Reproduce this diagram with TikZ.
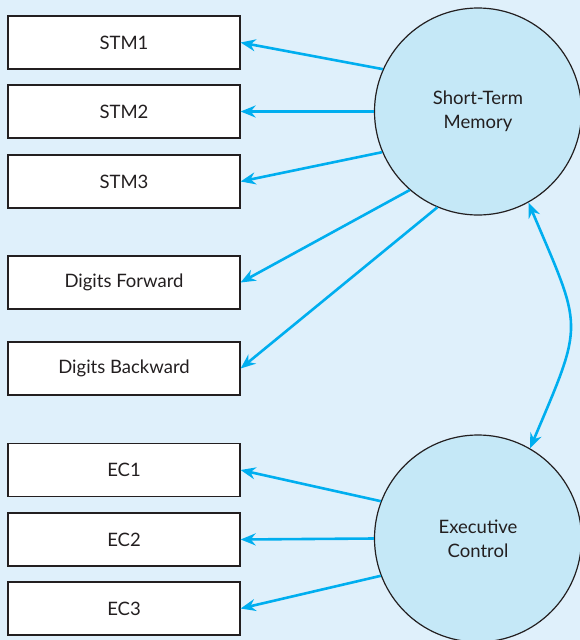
\documentclass[tikz,border=0pt]{standalone}
\usepackage{fontspec}
\setmainfont{Lato}
\usetikzlibrary{arrows.meta}
\definecolor{bgblue}{RGB}{223,240,251}
\definecolor{latent}{RGB}{197,232,247}
\definecolor{pathblue}{RGB}{0,174,239}
\definecolor{ink}{RGB}{35,31,32}
\begin{document}
\begin{tikzpicture}[x=1pt,y=-1pt,>={Stealth[length=15pt,width=12pt]},
  indicator/.style={draw=ink,line width=1.2pt,fill=white,minimum width=232pt,minimum height=53pt,inner sep=0pt,text=ink,font=\fontsize{18.5}{22}\selectfont},
  factor/.style={circle,draw=ink,line width=1.2pt,fill=latent,minimum size=207pt,inner sep=0pt,align=center,text=ink,font=\fontsize{18.5}{24}\selectfont},
  path/.style={->,draw=pathblue,line width=2.6pt}]
\fill[bgblue] (0,0) rectangle (580,640);
\clip (0,0) rectangle (580,640);
\node[indicator] (stm1) at (124,42.5) {STM1};
\node[indicator] (stm2) at (124,111.5) {STM2};
\node[indicator] (stm3) at (124,181.5) {STM3};
\node[indicator] (dfwd) at (124,282.5) {Digits Forward};
\node[indicator] (dbwd) at (124,368.5) {Digits Backward};
\node[indicator] (ec1) at (124,470) {EC1};
\node[indicator] (ec2) at (124,539.5) {EC2};
\node[indicator] (ec3) at (124,608.5) {EC3};
\node[factor] (stm) at (478,111.5) {Short-Term\\Memory};
\node[factor] (ec) at (478,538.5) {Executive\\Control};
\draw[path] (stm.156) -- (stm1.east);
\draw[path] (stm.180) -- (stm2.east);
\draw[path] (stm.203) -- (stm3.east);
\draw[path] (stm.229) -- (dfwd.east);
\draw[path] (stm.247) -- (dbwd.east);
\draw[path] (ec.159) -- (ec1.east);
\draw[path] (ec.180) -- (ec2.east);
\draw[path] (ec.201) -- (ec3.east);
\draw[path,<->] (stm.299) to[out=-67,in=67,looseness=1.45] (ec.60);
\end{tikzpicture}
\end{document}
